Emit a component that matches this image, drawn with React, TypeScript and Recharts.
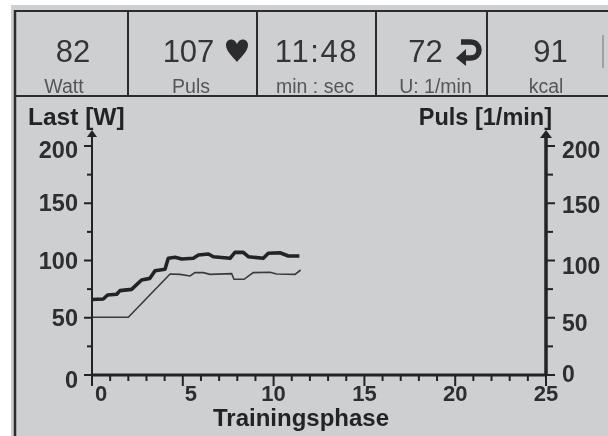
import React from "react";
import { LineChart, Line, XAxis, YAxis } from "recharts";

const FONT = "'Liberation Sans', Arial, sans-serif";
const INK = "#232325";

const upperTimes = [0, 0.62, 0.86, 1.36, 1.54, 2.18, 2.73, 3.19, 3.47, 4.02, 4.2, 4.57, 4.94, 5.58, 5.86, 6.41, 6.68, 7.6, 7.87, 8.33, 8.61, 9.43, 9.71, 10.35, 10.81, 11.42];
const upperValues = [66, 66.4, 69.9, 70.5, 73.7, 74.8, 83, 84.4, 91.1, 92.3, 101.9, 102.8, 101.3, 101.9, 104.8, 105.7, 103.3, 101.9, 107.1, 107.1, 103.3, 101.9, 106.3, 106.8, 103.9, 103.9];
const lowerTimes = [0, 2, 4.3, 4.85, 5.4, 5.67, 6.13, 6.5, 7.69, 7.82, 8.37, 8.88, 9.8, 10.17, 11.18, 11.49];
const lowerValues = [50.4, 50.4, 88.2, 87.9, 86.5, 89.4, 89.4, 87.9, 88.5, 83.6, 83.6, 89.4, 89.7, 88.2, 87.9, 91.7];

const xTicks = [0, 1, 2, 3, 4, 5, 6, 7, 8, 9, 10, 11, 12, 13, 14, 15, 16, 17, 18, 19, 20, 21, 22, 23, 24, 25];
const yTicks = [0, 25, 50, 75, 100, 125, 150, 175, 200];

const statValues = ["82", "107", "11:48", "72", "91"];
const statUnits = ["Watt", "Puls", "min : sec", "U: 1/min", "kcal"];
const statValueX = [73, 188.5, 316.5, 425.5, 550.5];
const statUnitX = [64, 191, 315, 435.5, 546];
const statSpacing = [0, 0, 1.6, 0, 0];
const dividers = [128, 257, 376, 487];

const upperData = upperTimes.map((t, i) => ({ t, v: upperValues[i] }));
const lowerData = lowerTimes.map((t, i) => ({ t, v: lowerValues[i] }));

const xLabelShift: Record<number, number> = { 0: 9, 5: 8 };
const leftLabelShift: Record<number, number> = { 0: 13, 50: 8, 100: 8, 150: 8, 200: 12 };
const rightLabelShift: Record<number, number> = { 0: 7, 50: 13, 100: 13, 150: 10, 200: 12 };

const XTick = (p: any) => {
  const v = p.payload.value;
  const major = v % 5 === 0;
  return (
    <g>
      <line x1={p.x} x2={p.x} y1={p.y} y2={p.y + (major ? 11 : 6)} stroke={INK} strokeWidth={2} />
      {major && (
        <text x={p.x + (xLabelShift[v] || 0)} y={p.y + 26} textAnchor="middle" fontFamily={FONT} fontWeight={700} fontSize={22} fill="#2e2e30">
          {v}
        </text>
      )}
    </g>
  );
};

const LeftTick = (p: any) => {
  const v = p.payload.value;
  const major = v % 50 === 0;
  return (
    <g>
      <line x1={p.x - (major ? 8 : 5)} x2={p.x} y1={p.y} y2={p.y} stroke={INK} strokeWidth={2} />
      {v === 200 && (
        <g>
          <line x1={p.x} x2={p.x} y1={p.y} y2={p.y - 12} stroke={INK} strokeWidth={2} />
          <path d={`M${p.x} ${p.y - 16} l-5 7 h10 z`} fill={INK} />
        </g>
      )}
      {major && (
        <text x={p.x - 14} y={p.y + (leftLabelShift[v] || 0)} textAnchor="end" fontFamily={FONT} fontWeight={700} fontSize={23.5} fill="#2e2e30">
          {v}
        </text>
      )}
    </g>
  );
};

const RightTick = (p: any) => {
  const v = p.payload.value;
  const major = v % 50 === 0;
  return (
    <g>
      <line x1={p.x} x2={p.x + (major ? 9 : 7)} y1={p.y} y2={p.y} stroke={INK} strokeWidth={2} />
      {v === 200 && (
        <g>
          <line x1={p.x} x2={p.x} y1={p.y} y2={p.y - 12} stroke={INK} strokeWidth={3.5} />
          <path d={`M${p.x} ${p.y - 16} l-6 8 h12 z`} fill={INK} />
        </g>
      )}
      {major && (
        <text x={p.x + 16} y={p.y + (rightLabelShift[v] || 0)} textAnchor="start" fontFamily={FONT} fontWeight={700} fontSize={23} fill="#2e2e30">
          {v}
        </text>
      )}
    </g>
  );
};

export default function App() {
  return (
    <div style={{ position: "fixed", left: 0, top: 0, width: 608, height: 436, background: "#fff", overflow: "hidden" }}>
      <div style={{ position: "absolute", inset: 0, filter: "blur(0.5px)" }}>
        <svg width={608} height={436} style={{ position: "absolute", left: 0, top: 0 }}>
          <rect x={11} y={5} width={597} height={431} fill="#cdcfd1" />
          <line x1={14} x2={608} y1={11} y2={11} stroke="#2c2c2e" strokeWidth={2} />
          <line x1={15} x2={15} y1={10} y2={436} stroke="#2c2c2e" strokeWidth={2.5} />
          <line x1={14} x2={608} y1={96} y2={96} stroke="#2c2c2e" strokeWidth={2} />
          {dividers.map((x) => (
            <line key={x} x1={x} x2={x} y1={11} y2={96} stroke="#2c2c2e" strokeWidth={2} />
          ))}
          <line x1={603} x2={603} y1={35} y2={68} stroke="#8e9092" strokeWidth={1.5} />
          {statValues.map((s, i) => (
            <text key={s} x={statValueX[i]} y={62} textAnchor="middle" fontFamily={FONT} fontSize={31} letterSpacing={statSpacing[i]} fill="#353537">
              {s}
            </text>
          ))}
          {statUnits.map((s, i) => (
            <text key={s} x={statUnitX[i]} y={93} textAnchor="middle" fontFamily={FONT} fontSize={19.5} fill="#55565a">
              {s}
            </text>
          ))}
          <path d="M237 62 C232 56 226 51 226 45 C226 39 234 37 237 44 C240 37 248 39 248 45 C248 51 242 56 237 62 Z" fill="#2c2c2e" />
          <path d="M461 42 H470 C482 42 482 58 470 58 H462" fill="none" stroke="#2c2c2e" strokeWidth={5.5} />
          <path d="M466 49 L456 58 L466 66 Z" fill="#2c2c2e" />
          <text x={28} y={125} fontFamily={FONT} fontWeight={700} fontSize={24.5} fill={INK}>Last [W]</text>
          <text x={552} y={125} textAnchor="end" fontFamily={FONT} fontWeight={700} fontSize={23.5} fill={INK}>Puls [1/min]</text>
          <text x={301} y={426} textAnchor="middle" fontFamily={FONT} fontWeight={700} fontSize={24} fill={INK}>Trainingsphase</text>
        </svg>
        <div style={{ position: "absolute", left: 0, top: 0 }}>
          <LineChart width={608} height={436} margin={{ top: 146, right: 12, bottom: 11, left: 42 }}>
            <XAxis type="number" dataKey="t" domain={[0, 25]} ticks={xTicks} interval={0} height={50} tickSize={0} tickMargin={0} axisLine={{ stroke: INK, strokeWidth: 3 }} tickLine={false} tick={<XTick />} allowDuplicatedCategory={false} />
            <YAxis yAxisId="left" orientation="left" domain={[0, 200]} ticks={yTicks} interval={0} width={50} tickSize={0} tickMargin={0} axisLine={{ stroke: INK, strokeWidth: 2 }} tickLine={false} tick={<LeftTick />} />
            <YAxis yAxisId="right" orientation="right" domain={[0, 200]} ticks={yTicks} interval={0} width={50} tickSize={0} tickMargin={0} axisLine={{ stroke: INK, strokeWidth: 3.5 }} tickLine={false} tick={<RightTick />} />
            <Line yAxisId="left" data={lowerData} dataKey="v" type="linear" stroke="#3a3a3c" strokeWidth={1.6} dot={false} isAnimationActive={false} />
            <Line yAxisId="right" data={upperData} dataKey="v" type="linear" stroke="#232325" strokeWidth={3.6} strokeLinejoin="round" dot={false} isAnimationActive={false} />
          </LineChart>
        </div>
      </div>
    </div>
  );
}
